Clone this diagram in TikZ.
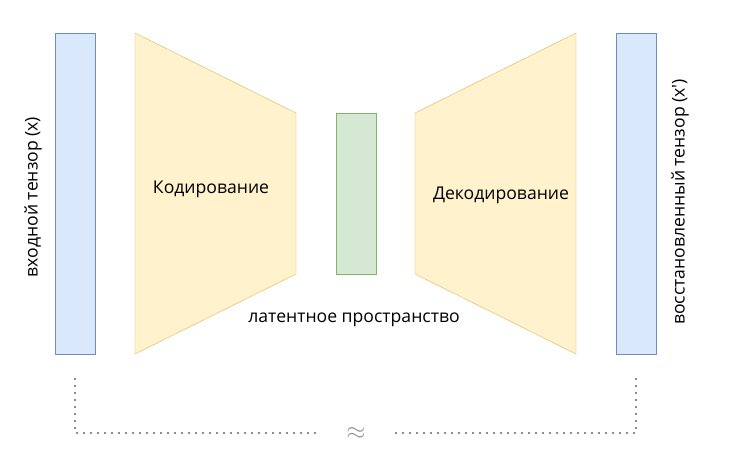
\documentclass[tikz,border=0pt]{standalone}
\usepackage{fontspec}
\setmainfont{Open Sans}
\usetikzlibrary{positioning,calc}

\definecolor{tensorfill}{HTML}{DAE8FC}
\definecolor{tensordraw}{HTML}{6C8EBF}
\definecolor{codefill}{HTML}{FFF2CC}
\definecolor{codedraw}{HTML}{D6B656}
\definecolor{latentfill}{HTML}{D5E8D4}
\definecolor{latentdraw}{HTML}{82B366}

\tikzset{
    tensor/.style={draw=tensordraw, fill=tensorfill, minimum width=40pt, minimum height=321pt, inner sep=0pt},
    latent/.style={draw=latentdraw, fill=latentfill, minimum width=40pt, minimum height=161pt, inner sep=0pt},
    coder/.style={draw=codedraw, fill=codefill},
    label/.style={font=\fontsize{17.6}{20}\selectfont, text=black},
    gap/.style={draw=gray!90, line width=1.6pt, dash pattern=on 1.6pt off 5.4pt}
}

\begin{document}
\begin{tikzpicture}[x=1pt, y=-1pt, auto]
    \useasboundingbox (0,0) rectangle (730,461);

    % tensors
    \node [tensor] (In) at (75,193.5) {};
    \node [tensor] (Out) at (636,193.5) {};
    \node [latent] (Lat) at (356,193.5) {};

    % encoder / decoder
    \draw [coder] (135,33) -- (296,113) -- (296,274) -- (135,354) -- cycle;
    \draw [coder] (415,113) -- (576,33) -- (576,354) -- (415,274) -- cycle;

    \node [label] (Enc) at (211,189) {Кодирование};
    \node [label] (Dec) at (501,195) {Декодирование};
    \node [label] (LatText) at (354,320) {латентное пространство};

    \node [label, rotate=90] (InText) at (33,197) {входной тензор (x)};
    \node [label, rotate=90] (OutText) at (680,202) {восстановленный тензор (x\textquotesingle)};

    % approximation
    \node [text=gray!80, font=\fontsize{32}{32}\selectfont] (Approx) at (356,433) {$\approx$};
    \coordinate [below=24pt of In.south] (InEnd);
    \coordinate [below=24pt of Out.south] (OutEnd);
    \draw [gap] (InEnd) |- ([xshift=-38pt]Approx.center);
    \draw [gap] (OutEnd) |- ([xshift=39pt]Approx.center);
\end{tikzpicture}
\end{document}
